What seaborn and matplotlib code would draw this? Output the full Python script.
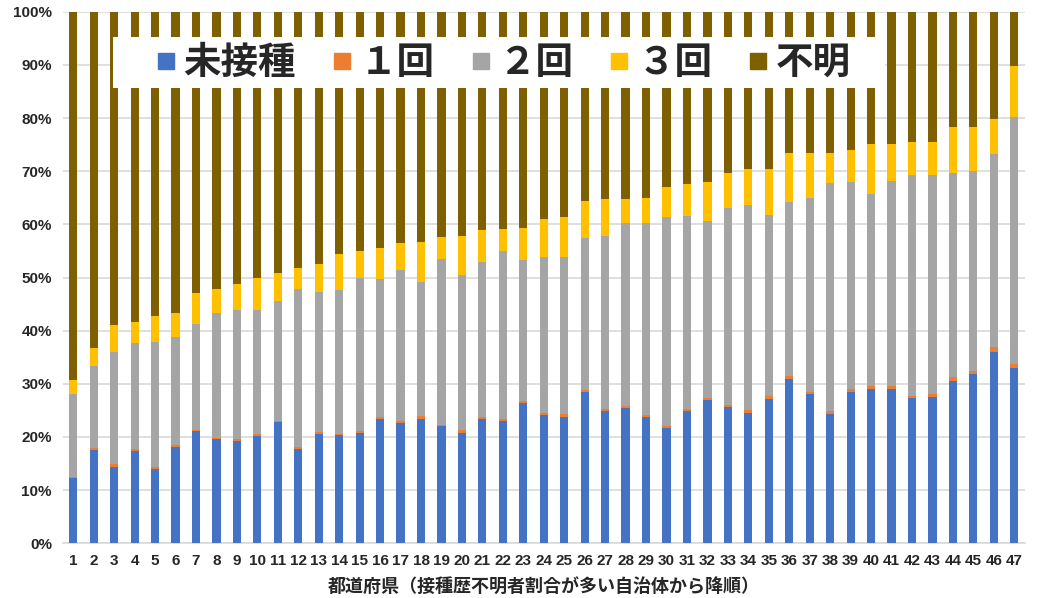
import numpy as np
import pandas as pd
import matplotlib
matplotlib.use("Agg")
import matplotlib.pyplot as plt
from matplotlib import font_manager as fm
from matplotlib.lines import Line2D
from matplotlib.patches import Rectangle
import seaborn as sns

# ---- data (percent of each prefecture, sorted by share of unknown history) ----
prefs = [str(i) for i in range(1, 48)]
series_names = ["未接種", "１回", "２回", "３回", "不明"]
unvaccinated = [12.2, 17.6, 14.4, 17.4, 14.0, 18.2, 21.2, 19.7, 19.3, 20.2,
                22.9, 17.7, 20.5, 20.4, 20.8, 23.4, 22.7, 23.3, 22.0, 20.8,
                23.4, 23.1, 26.4, 24.1, 23.8, 28.4, 24.9, 25.5, 23.7, 21.6,
                24.8, 27.0, 25.7, 24.6, 27.1, 31.0, 28.1, 24.4, 28.5, 29.1,
                29.1, 27.4, 27.6, 30.6, 31.9, 36.0, 33.0]
dose1 = [0.2, 0.4, 0.5, 0.3, 0.4, 0.3, 0.2, 0.2, 0.3, 0.4,
         0.2, 0.4, 0.4, 0.2, 0.3, 0.3, 0.3, 0.6, 0.3, 0.6,
         0.3, 0.3, 0.4, 0.4, 0.6, 0.4, 0.4, 0.3, 0.4, 0.5,
         0.5, 0.4, 0.4, 0.5, 0.6, 0.5, 0.4, 0.4, 0.5, 0.5,
         0.5, 0.4, 0.5, 0.6, 0.5, 1.0, 0.7]
dose2 = [15.6, 15.4, 21.1, 19.9, 23.5, 20.4, 19.8, 23.4, 24.3, 23.2,
         22.5, 29.7, 26.3, 27.1, 28.9, 26.0, 28.5, 25.2, 31.2, 29.1,
         29.3, 31.5, 26.5, 29.4, 29.5, 28.7, 32.5, 34.4, 36.1, 39.3,
         36.3, 33.3, 37.0, 38.6, 34.1, 32.7, 36.5, 42.9, 38.9, 36.1,
         38.5, 41.4, 41.1, 38.4, 37.6, 36.2, 46.5]
dose3 = [2.8, 3.4, 5.1, 4.0, 4.9, 4.4, 5.9, 4.6, 4.9, 6.2,
         5.2, 3.9, 5.3, 6.7, 5.0, 5.8, 4.9, 7.5, 4.2, 7.3,
         6.0, 4.2, 6.1, 7.1, 7.4, 6.8, 6.9, 4.6, 4.7, 5.6,
         5.9, 7.3, 6.5, 6.7, 8.7, 9.2, 8.4, 5.7, 6.1, 9.4,
         7.0, 6.2, 6.3, 8.7, 8.4, 6.7, 9.5]
unknown = [69.2, 63.2, 58.9, 58.4, 57.2, 56.7, 52.9, 52.1, 51.2, 50.0,
           49.2, 48.3, 47.5, 45.6, 45.0, 44.5, 43.6, 43.4, 42.3, 42.2,
           41.0, 40.9, 40.6, 39.0, 38.7, 35.7, 35.3, 35.2, 35.1, 33.0,
           32.5, 32.0, 30.4, 29.6, 29.5, 26.6, 26.6, 26.6, 26.0, 24.9,
           24.9, 24.6, 24.5, 21.7, 21.6, 20.1, 10.3]
yticks = [0, 10, 20, 30, 40, 50, 60, 70, 80, 90, 100]
xlabel = "都道府県（接種歴不明者割合が多い自治体から降順）"

colors = ["#4472C4", "#ED7D31", "#A5A5A5", "#FFC000", "#7F6000"]

# ---- fonts ----
names = {f.name for f in fm.fontManager.ttflist}
narrow = "Liberation Sans Narrow" if "Liberation Sans Narrow" in names else "Liberation Sans"
cjk = "Noto Sans CJK JP"

sns.set_theme(style="white")
plt.rcParams["font.family"] = [cjk, "DejaVu Sans"]

W, H = 1037, 598
fig = plt.figure(figsize=(W / 100, H / 100), dpi=100)
ax = fig.add_axes([63 / W, 1 - 543.3 / H, (1024.5 - 63) / W, (543.3 - 11.7) / H])
ax.set_zorder(0)

series = [unvaccinated, dose1, dose2, dose3, unknown]
bottom = np.zeros(len(prefs))
for name, vals, col in zip(series_names, series, colors):
    df = pd.DataFrame({"pref": prefs, "value": vals})
    sns.barplot(data=df, x="pref", y="value", order=prefs, color=col,
                width=0.4, bottom=bottom, ax=ax, errorbar=None,
                saturation=1, linewidth=0, zorder=3)
    bottom = bottom + np.asarray(vals)

ax.set_ylim(0, 100)
ax.set_xlim(-0.5, len(prefs) - 0.5)
ax.set_yticks(yticks)
ax.set_yticklabels([f"{v}%" for v in yticks], fontfamily=narrow,
                   fontweight="bold", fontsize=11)
ax.set_xticks(range(len(prefs)))
ax.set_xticklabels(prefs, fontfamily=narrow, fontweight="bold", fontsize=11)
ax.tick_params(axis="both", length=0)
ax.tick_params(axis="y", pad=8)
ax.tick_params(axis="x", pad=8)
ax.grid(axis="y", color="#D9D9D9", linewidth=1.2, zorder=0)
ax.set_axisbelow(True)
for s in ["top", "right", "left"]:
    ax.spines[s].set_visible(False)
ax.spines["bottom"].set_color("#D9D9D9")
ax.spines["bottom"].set_linewidth(1.2)
ax.set_ylabel("")
ax.set_xlabel(xlabel, fontsize=13, fontweight="bold", labelpad=6)

# white legend panel
fig.patches.append(Rectangle((113 / W, 1 - 88 / H), (885 - 113) / W, 51 / H,
                             transform=fig.transFigure, facecolor="white",
                             edgecolor="none", zorder=5))

handles = [Line2D([], [], marker="s", linestyle="none", color=c,
                  markersize=12) for c in colors]
leg = fig.legend(handles, series_names, ncol=5, loc="center",
                 bbox_to_anchor=(504 / W, 1 - 62.5 / H),
                 bbox_transform=fig.transFigure,
                 prop={"family": [cjk], "weight": "bold", "size": 27},
                 frameon=False,
                 handlelength=0.45, handletextpad=0.25, columnspacing=1.0,
                 borderpad=0.05, borderaxespad=0)
leg.set_zorder(10)

fig.savefig("out.png", dpi=100)
